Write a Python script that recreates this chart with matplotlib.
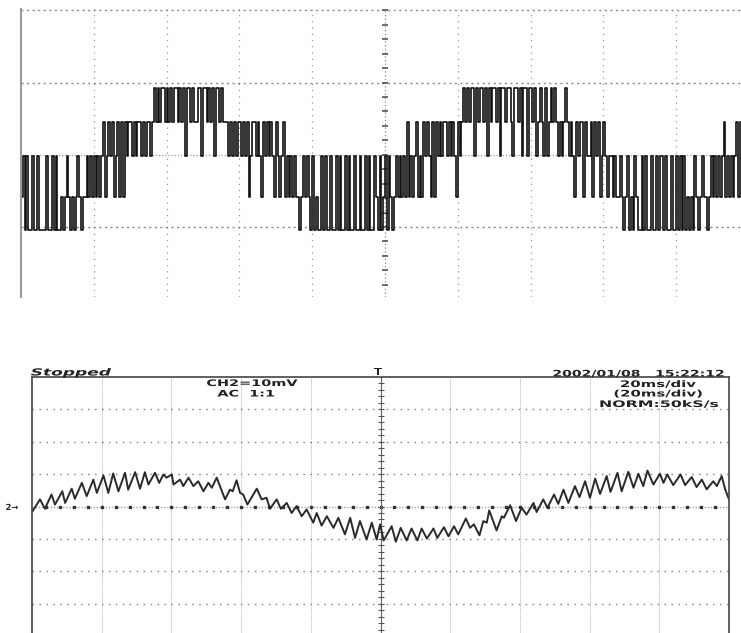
import numpy as np
import matplotlib
matplotlib.use('Agg')
import matplotlib.pyplot as plt
import matplotlib.patheffects as pe
from matplotlib.transforms import Affine2D

# верхняя осциллограмма: уровни ступенчатого ШИМ-сигнала (в делениях)
level_values = {'0': -1.04, '1': -0.58, '2': -0.02, '3': 0.46, '4': 0.92}
# последовательность уровней, по строке на деление (40 отсчётов на деление)
top_levels = [
    "1202002002000020020200101210101210112121",
    "2121231232312313132332323323233234343443",
    "4343443434244343344244343424434333232323",
    "3232312332321323232132123121212110121210",
    "2010020200200202002020020020020200210201",
    "2021012121213121231213232131323233232321",
    "3234343442434434243443424434432443424424",
    "4342343242343432323432321323313223132312",
    "3212212112101201021002020020020220200200",
    "2020201010210121101212121231212123132323",
]

# нижняя осциллограмма: вершины пульсаций, время в мс и напряжение в мВ
bot_t = [0.2, 2.3, 3.7, 5.6, 6.6, 8.7, 9.5, 11.4, 12.3, 14.3,
         15.7, 17.6, 18.6, 20.5, 21.9, 23.3, 24.8, 26.7, 27.6, 29.6,
         31.0, 32.4, 33.4, 35.3, 36.5, 37.7, 38.6, 40.1, 40.6, 42.5,
         43.4, 44.9, 46.3, 47.7, 49.2, 50.6, 51.6, 53.0, 55.4, 56.8,
         57.6, 58.7, 59.7, 60.6, 61.8, 64.5, 65.9, 67.3, 68.3, 70.2,
         71.4, 73.1, 74.5, 75.9, 77.4, 78.8, 80.7, 81.7, 83.1, 84.6,
         86.5, 87.9, 89.8, 91.3, 92.7, 94.1, 96.0, 97.5, 98.9, 99.9,
         100.9, 103.2, 104.4, 105.8, 107.5, 108.9, 110.6, 111.8, 113.3, 115.2,
         116.3, 118.2, 119.5, 121.1, 122.3, 124.5, 125.7, 126.8, 128.4, 129.5,
         130.5, 131.2, 133.3, 134.8, 135.4, 137.2, 138.9, 140.5, 141.9, 143.9,
         144.8, 146.7, 147.9, 149.8, 151.0, 152.5, 153.9, 155.8, 157.1, 158.7,
         160.1, 161.6, 163.0, 164.9, 166.0, 168.0, 169.2, 171.1, 172.6, 174.0,
         175.4, 176.6, 178.3, 180.2, 181.2, 182.3, 184.0, 186.1, 187.4, 189.3,
         190.7, 192.2, 193.6, 195.5, 196.5, 197.9, 198.9, 200.0]
bot_v = [-1.4, 2.2, -0.7, 3.7, 0.6, 4.7, 1.1, 5.5, 2.4, 7.3,
         3.2, 8.3, 4.2, 9.6, 4.2, 10.2, 4.7, 10.4, 5.2, 10.6,
         5.5, 10.6, 6.8, 10.4, 7.3, 9.9, 8.9, 9.9, 6.8, 8.3,
         6.3, 8.9, 6.3, 7.8, 4.7, 7.3, 5.8, 8.9, 2.2, 5.2,
         4.7, 8.1, 4.2, 3.7, 0.6, 5.5, 2.2, 2.7, -0.7, 2.2,
         -0.7, 1.1, -2.0, 0.1, -3.0, -0.9, -5.0, -2.0, -5.9, -3.0,
         -6.6, -3.5, -8.6, -3.5, -9.7, -4.5, -10.2, -5.0, -10.2, -5.5,
         -10.5, -6.1, -10.9, -6.6, -10.5, -6.8, -10.5, -6.8, -9.9, -6.8,
         -9.7, -6.4, -9.2, -6.1, -8.6, -3.7, -6.6, -5.5, -8.9, -4.5,
         -5.0, -1.2, -7.4, -3.0, -3.5, 0.4, -4.5, -0.4, -2.5, 1.1,
         -1.7, 2.2, -0.4, 3.7, 0.8, 5.2, 1.1, 6.3, 2.9, 7.8,
         2.7, 8.6, 3.9, 9.4, 4.5, 10.4, 4.7, 10.7, 5.8, 10.1,
         6.3, 11.1, 6.8, 10.1, 7.3, 9.9, 6.6, 9.9, 6.6, 9.1,
         6.0, 8.3, 5.3, 7.8, 6.3, 9.4, 5.3, 2.2]


# растягиваем надписи по горизонтали, как шрифт осциллографа
class Wide(pe.AbstractPathEffect):
    def __init__(self, sx):
        super().__init__()
        self.sx = sx

    def draw_path(self, renderer, gc, tpath, affine, rgbFace=None):
        ext = tpath.get_extents()
        cx = (ext.x0 + ext.x1) / 2
        stretch = Affine2D().translate(-cx, 0).scale(self.sx, 1).translate(cx, 0)
        renderer.draw_path(gc, tpath, stretch + affine, rgbFace)


W, H = 741, 633
fig = plt.figure(figsize=(W / 100, H / 100), dpi=100)

# ---------- верхний график ----------
ax1 = fig.add_axes([21 / W, (H - 297) / H, 728 / W, 288 / H])
ax1.set_xlim(0, 10)
ax1.set_ylim(-1.97, 2.02)
for s in ['top', 'right', 'bottom']:
    ax1.spines[s].set_visible(False)
ax1.spines['left'].set_color('#9a9a9a')
ax1.spines['left'].set_linewidth(1.5)
ax1.set_xticks([])
ax1.set_yticks([])

for k in [1, 2, 3, 4, 6, 7, 8, 9]:
    ax1.axvline(k, color='#999999', lw=0.9, ls=(0, (1, 4)))
for v in [2, 1, -1]:
    ax1.axhline(v, color='#888888', lw=1.0, ls=(0, (1.5, 2.5)))
ax1.axhline(0, color='#999999', lw=0.9, ls=(0, (1, 1.5)))
ax1.axvline(5, color='#888888', lw=0.9, ls=(0, (1, 2)))
ticks_y = np.arange(-1.8, 2.01, 0.2)
ax1.plot(np.full(len(ticks_y), 5.0), ticks_y, ls='none', marker='_',
         ms=4, mew=1.2, color='#555555')

seq = ''.join(top_levels)
y_top = np.array([level_values[c] for c in seq + seq[-1]])
x_top = np.arange(len(y_top)) / 40.0
ax1.plot(x_top, y_top, drawstyle='steps-post', color='#111111', lw=1.2)

# ---------- нижний график ----------
ax2 = fig.add_axes([32 / W, (H - 636) / H, 697 / W, 259 / H])
ax2.set_xlim(0, 200)
ax2.set_ylim(-40, 40)
ax2.spines['bottom'].set_visible(False)
for s in ['top', 'left', 'right']:
    ax2.spines[s].set_color('#444444')
    ax2.spines[s].set_linewidth(1.2)
ax2.set_xticks([])
ax2.set_yticks([])

for k in [20, 40, 60, 80, 120, 140, 160, 180]:
    ax2.axvline(k, color='#b5b5b5', lw=0.7, ls=(0, (1, 1)))
for v in [30, 20, 10, -10, -20, -30]:
    ax2.axhline(v, color='#8c8c8c', lw=1.0, ls=(0, (1.2, 3.8)))
ax2.axhline(0, color='#a0a0a0', lw=1.0, ls=(0, (1, 1.2)))
ticks_t = np.arange(4, 200, 4)
ax2.plot(ticks_t, np.zeros(len(ticks_t)), ls='none', marker='s', ms=2,
         color='#333333')
ax2.axvline(100, color='#666666', lw=0.8)
ticks_v = np.arange(-38, 40, 2)
ax2.plot(np.full(len(ticks_v), 100.0), ticks_v, ls='none', marker='_',
         ms=4, mew=0.8, color='#555555')

ax2.plot(bot_t, bot_v, color='#2a2a2a', lw=1.4)

# ---------- надписи ----------
txt = dict(color='#222222', fontsize=6.5, fontweight='bold', ha='center',
           va='baseline')


def label(x, y, s, sx, **kw):
    opts = dict(txt)
    opts.update(kw)
    fig.text(x / W, 1 - y / H, s, path_effects=[Wide(sx)], **opts)


label(71, 375.5, 'Stopped', 1.75, style='italic', fontsize=7)
label(252, 386, 'CH2=10mV', 1.6)
label(246, 396.5, 'AC  1:1', 1.6)
label(638, 376.5, '2002/01/08   15:22:12', 1.55)
label(658, 387, '20ms/div', 1.65)
label(658, 396.5, '(20ms/div)', 1.65)
label(659, 407, 'NORM:50kS/s', 1.75)
label(378, 375, '\u22a4', 1.2, fontsize=7)
label(12, 510, '2\u2192', 1.0, fontsize=6)

fig.savefig('out.png', dpi=100)
